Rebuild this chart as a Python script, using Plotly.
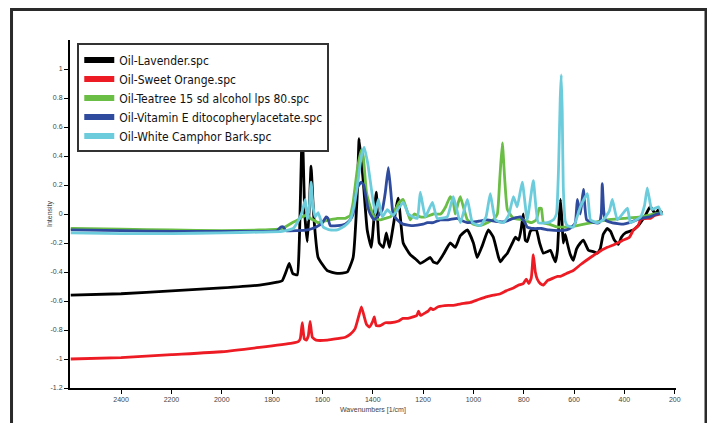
import plotly.graph_objects as go

# ---- data ----
lav_wn = [2600, 2400, 2200, 2000, 1850, 1780, 1760, 1745, 1732, 1718, 1700, 1692, 1680, 1670, 1660, 1652, 1645, 1635,
          1617, 1581, 1541, 1501, 1478, 1462, 1454, 1438, 1422, 1406, 1386, 1374, 1358, 1346, 1334, 1299, 1279, 1251,
          1230, 1211, 1190, 1171, 1160, 1144, 1120, 1092, 1072, 1052, 1024, 1000, 985, 965, 941, 921, 900, 893, 880,
          865, 845, 833, 820, 810, 802, 794, 786, 774, 766, 750, 737, 722, 706, 694, 682, 674, 666, 660, 654, 648,
          643, 635, 627, 615, 603, 590, 575, 563, 543, 523, 507, 496, 484, 468, 455, 440, 424, 412, 396, 380, 364,
          345, 336, 320, 305, 297, 285, 277, 265, 257, 250]
lav_y = [-0.56, -0.55, -0.53, -0.51, -0.49, -0.47, -0.46, -0.40, -0.34, -0.41, -0.42, -0.20, 0.60, 0.00, -0.19, 0.05,
         0.33, 0.00, -0.30, -0.39, -0.41, -0.40, -0.30, 0.12, 0.52, 0.23, -0.11, -0.23, 0.15, -0.20, -0.23, -0.13,
         -0.23, 0.11, -0.20, -0.28, -0.31, -0.34, -0.32, -0.30, -0.33, -0.34, -0.28, -0.20, -0.23, -0.15, -0.11,
         -0.20, -0.30, -0.22, -0.11, -0.16, -0.30, -0.33, -0.30, -0.27, -0.20, -0.16, -0.18, -0.10, 0.00, -0.18,
         -0.19, -0.12, -0.11, -0.11, -0.20, -0.27, -0.26, -0.25, -0.30, -0.33, -0.25, -0.05, 0.10, -0.05, -0.20,
         -0.14, -0.20, -0.28, -0.32, -0.24, -0.20, -0.18, -0.25, -0.26, -0.27, -0.24, -0.14, -0.10, -0.12, -0.18,
         -0.21, -0.16, -0.13, -0.12, -0.11, -0.08, -0.06, -0.02, 0.03, 0.05, 0.02, 0.00, 0.03, 0.01, 0.02]

ora_wn = [2600, 2400, 2200, 2000, 1850, 1720, 1696, 1688, 1680, 1672, 1664, 1656, 1649, 1640, 1625, 1580, 1541, 1509,
          1490, 1470, 1455, 1445, 1435, 1425, 1414, 1400, 1394, 1386, 1370, 1350, 1330, 1300, 1280, 1260, 1240, 1225,
          1218, 1210, 1190, 1180, 1170, 1159, 1140, 1100, 1080, 1050, 1012, 980, 945, 920, 893, 870, 841, 820, 802,
          790, 780, 770, 762, 754, 746, 734, 722, 706, 680, 666, 654, 630, 603, 575, 535, 500, 468, 440, 404, 380,
          364, 345, 336, 310, 297, 280, 257, 250]
ora_y = [-1.00, -0.99, -0.97, -0.95, -0.92, -0.89, -0.88, -0.86, -0.75, -0.86, -0.87, -0.84, -0.74, -0.85, -0.87,
         -0.87, -0.86, -0.85, -0.83, -0.79, -0.70, -0.64, -0.70, -0.76, -0.78, -0.74, -0.71, -0.77, -0.77, -0.75,
         -0.75, -0.74, -0.72, -0.72, -0.71, -0.70, -0.67, -0.70, -0.68, -0.67, -0.65, -0.66, -0.64, -0.63, -0.63,
         -0.62, -0.61, -0.59, -0.57, -0.56, -0.55, -0.53, -0.51, -0.49, -0.48, -0.45, -0.48, -0.44, -0.28, -0.40,
         -0.45, -0.48, -0.49, -0.46, -0.44, -0.43, -0.43, -0.41, -0.39, -0.35, -0.30, -0.26, -0.23, -0.21, -0.18,
         -0.16, -0.11, -0.08, -0.04, -0.03, -0.03, -0.01, 0.00, 0.01]

tea_wn = [2600, 2400, 2200, 2000, 1850, 1760, 1720, 1696, 1680, 1668, 1660, 1649, 1637, 1617, 1597, 1570, 1540, 1509,
          1490, 1478, 1462, 1446, 1438, 1425, 1410, 1400, 1390, 1370, 1350, 1330, 1310, 1295, 1279, 1265, 1251, 1235,
          1211, 1190, 1159, 1130, 1110, 1092, 1080, 1072, 1060, 1052, 1040, 1024, 1000, 973, 945, 921, 905, 895, 885,
          876, 865, 841, 802, 770, 750, 738, 730, 722, 700, 666, 654, 620, 560, 468, 400, 336, 285, 250]
tea_y = [-0.10, -0.105, -0.11, -0.115, -0.11, -0.10, -0.06, -0.04, -0.02, -0.01, 0.00, -0.03, -0.04, -0.06, -0.05,
         -0.04, -0.03, -0.03, -0.01, 0.08, 0.30, 0.44, 0.40, 0.15, 0.05, 0.00, -0.03, -0.04, -0.03, -0.02, 0.03,
         0.08, 0.10, 0.03, -0.04, 0.00, -0.02, -0.02, 0.00, 0.00, 0.05, 0.12, 0.08, 0.00, 0.08, 0.12, 0.05, -0.04,
         -0.07, -0.08, -0.06, -0.04, 0.00, 0.25, 0.49, 0.25, 0.03, -0.03, -0.04, -0.06, -0.04, 0.04, 0.04, -0.06,
         -0.07, -0.09, -0.09, -0.09, -0.07, -0.04, -0.03, -0.02, 0.00, 0.01]

vit_wn = [2600, 2400, 2200, 2000, 1850, 1780, 1765, 1755, 1745, 1700, 1660, 1640, 1625, 1600, 1585, 1578, 1569, 1540,
          1510, 1490, 1478, 1462, 1446, 1436, 1420, 1410, 1395, 1382, 1362, 1350, 1338, 1328, 1319, 1303, 1280, 1240,
          1200, 1183, 1160, 1132, 1100, 1064, 1040, 1024, 980, 945, 913, 880, 841, 814, 795, 786, 760, 730, 700,
          660, 630, 610, 595, 587, 575, 563, 550, 520, 500, 492, 488, 482, 476, 450, 404, 380, 336, 300, 270, 250]
vit_y = [-0.11, -0.115, -0.12, -0.12, -0.12, -0.115, -0.09, -0.09, -0.115, -0.115, -0.11, -0.10, -0.09, -0.06,
         -0.02, -0.03, -0.08, -0.08, -0.07, -0.04, 0.00, 0.18, 0.22, 0.20, 0.05, 0.00, -0.04, -0.02, 0.03, 0.15,
         0.32, 0.15, 0.00, -0.04, -0.07, -0.08, -0.07, -0.06, -0.06, -0.04, -0.04, -0.03, -0.05, -0.06, -0.05,
         -0.04, -0.05, -0.055, -0.03, -0.02, -0.06, -0.09, -0.10, -0.10, -0.11, -0.115, -0.11, -0.09, -0.06, 0.10,
         0.00, 0.17, -0.04, -0.06, -0.06, 0.00, 0.21, 0.02, -0.04, -0.06, -0.07, -0.06, -0.03, -0.02, 0.00, 0.01]

cam_wn = [2600, 2400, 2200, 2000, 1850, 1760, 1716, 1700, 1688, 1680, 1668, 1660, 1652, 1645, 1637, 1629, 1617, 1597,
          1570, 1541, 1510, 1489, 1475, 1462, 1445, 1434, 1420, 1410, 1390, 1378, 1362, 1342, 1319, 1279, 1259, 1240,
          1223, 1211, 1191, 1163, 1144, 1104, 1080, 1052, 1024, 1004, 973, 950, 933, 913, 881, 860, 841, 826, 806,
          786, 762, 742, 706, 682, 670, 662, 655, 651, 647, 643, 635, 627, 603, 575, 547, 535, 507, 484, 460, 448,
          428, 388, 376, 336, 320, 309, 295, 289, 265, 250]
cam_y = [-0.13, -0.135, -0.135, -0.13, -0.125, -0.12, -0.10, -0.06, -0.02, 0.02, 0.10, -0.04, 0.05, 0.22, 0.05,
         -0.02, 0.01, -0.09, -0.11, -0.11, -0.08, -0.04, 0.05, 0.19, 0.40, 0.46, 0.35, 0.23, 0.00, 0.10, -0.02,
         0.03, -0.01, 0.08, 0.00, -0.02, -0.03, 0.15, -0.02, 0.08, -0.03, -0.02, 0.12, -0.06, 0.10, -0.06, -0.08,
         -0.02, 0.14, -0.04, -0.06, -0.01, 0.12, 0.05, 0.22, -0.04, 0.23, -0.06, -0.06, -0.04, 0.00, 0.30, 0.80,
         0.96, 0.70, 0.19, -0.05, -0.08, -0.09, 0.05, 0.14, -0.04, -0.06, -0.04, 0.02, 0.10, -0.04, 0.04, -0.06,
         -0.02, 0.06, 0.18, 0.05, 0.03, 0.05, -0.01]

series_names = ["Oil-Lavender.spc", "Oil-Sweet Orange.spc", "Oil-Teatree 15 sd alcohol lps 80.spc",
                "Oil-Vitamin E ditocopherylacetate.spc", "Oil-White Camphor Bark.spc"]
series_x = [lav_wn, ora_wn, tea_wn, vit_wn, cam_wn]
series_y = [lav_y, ora_y, tea_y, vit_y, cam_y]
colors = ["#000000", "#ED1C24", "#6ABD45", "#2F4B9E", "#6CCCDC"]

x_ticks = [2400, 2200, 2000, 1800, 1600, 1400, 1200, 1000, 800, 600, 400, 200]
y_ticks = [-1.2, -1.0, -0.8, -0.6, -0.4, -0.2, 0, 0.2, 0.4, 0.6, 0.8, 1.0]
y_ticktext = ["-1.2", "-1", "-0.8", "-0.6", "-0.4", "-0.2", "0", "0.2", "0.4", "0.6", "0.8", "1"]

fig = go.Figure()
for name, xs, ys, c in zip(series_names, series_x, series_y, colors):
    fig.add_trace(go.Scatter(x=xs, y=ys, mode="lines", name=name, legendgroup=name, showlegend=False,
                             line=dict(color=c, width=2.8, shape="spline", smoothing=0.4)))
for name, c in zip(series_names, colors):
    fig.add_trace(go.Scatter(x=[None], y=[None], mode="lines", name=name, legendgroup=name,
                             showlegend=True, line=dict(color=c, width=6)))

tickfont = dict(family="Liberation Sans, Arial, sans-serif", size=7, color="#444")
fig.update_layout(
    width=707, height=415,
    margin=dict(l=62, r=39, t=32, b=35),
    paper_bgcolor="white", plot_bgcolor="white",
    showlegend=True,
    legend=dict(x=0.012, y=0.99, xanchor="left", yanchor="top",
                bgcolor="white", bordercolor="#333", borderwidth=2,
                font=dict(family="Liberation Sans Narrow, DejaVu Sans Condensed, Arial Narrow, sans-serif",
                          size=12, color="#111"),
                tracegroupgap=0, itemwidth=30),
    xaxis=dict(range=[2603, 195], tickvals=x_ticks, ticktext=[str(v) for v in x_ticks],
               showgrid=False, zeroline=False, showline=True, linecolor="black", linewidth=2,
               ticks="outside", ticklen=4, tickwidth=1, tickcolor="black", tickfont=tickfont,
               automargin=False),
    yaxis=dict(range=[-1.2, 1.2], tickvals=y_ticks, ticktext=y_ticktext,
               showgrid=False, zeroline=False, showline=True, linecolor="black", linewidth=2,
               ticks="outside", ticklen=4, tickwidth=1, tickcolor="black", tickfont=tickfont,
               automargin=False),
    annotations=[
        dict(text="Wavenumbers [1/cm]", xref="paper", yref="paper", x=0.5, y=-0.062,
             showarrow=False, font=tickfont, xanchor="center", yanchor="middle"),
        dict(text="Intensity", xref="paper", yref="paper", x=-0.033, y=0.5, textangle=-90,
             showarrow=False, font=tickfont, xanchor="center", yanchor="middle"),
    ],
    shapes=[dict(type="rect", xref="paper", yref="paper", x0=-0.0965, x1=1.0495, y0=-0.2, y1=1.0876,
                 line=dict(color="#2a2a2a", width=3), fillcolor="rgba(0,0,0,0)", layer="above")],
)

fig.write_html("out.html")
